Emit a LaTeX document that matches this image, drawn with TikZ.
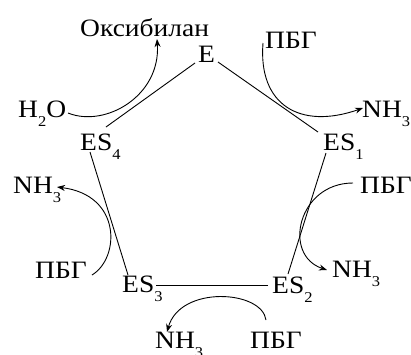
\documentclass[tikz,border=0pt]{standalone}
\usepackage{fontspec}
\setmainfont[FakeStretch=1.1]{Liberation Serif}
\usetikzlibrary{arrows.meta,calc}
\newcommand\lowsub[1]{\raisebox{-9.5pt}{\fontsize{15}{15}\selectfont #1}}
\tikzset{
  lbl/.style={inner sep=1pt, font=\fontsize{25}{29}\selectfont, anchor=base west},
  edge/.style={line width=0.9pt},
  flow/.style={line width=0.9pt, -{Stealth[length=8pt,width=6pt]}}
}
\begin{document}
\begin{tikzpicture}[x=1pt,y=-1pt]
\useasboundingbox (0,0) rectangle (411,354);
% labels
\node[lbl] (E) at (197,62) {E};
\node[lbl] (oks) at (79,36) {Оксибилан};
\node[lbl] (p1) at (264,48) {ПБГ};
\node[lbl] (h2o) at (17,117) {H\lowsub{2}O};
\node[lbl] (n1) at (361,117) {NH\lowsub{3}};
\node[lbl] (es4) at (79,150) {ES\lowsub{4}};
\node[lbl] (es1) at (322,150) {ES\lowsub{1}};
\node[lbl] (n4) at (12,193) {NH\lowsub{3}};
\node[lbl] (p2) at (359,193) {ПБГ};
\node[lbl] (p4) at (34,278) {ПБГ};
\node[lbl] (n2) at (331,277) {NH\lowsub{3}};
\node[lbl] (es3) at (121,292) {ES\lowsub{3}};
\node[lbl] (es2) at (271,293) {ES\lowsub{2}};
\node[lbl] (n3) at (154,348) {NH\lowsub{3}};
\node[lbl] (p3) at (249,348) {ПБГ};
% pentagon
\draw[edge] ($(E.base west)+(21,0)$) -- ($(es1.base west)+(-4,-18)$);
\draw[edge] ($(es1.base west)+(4,3)$) -- ($(es2.base west)+(17,-19)$);
\draw[edge] ($(es2.base west)+(-3,-8)$) -- ($(es3.base west)+(35,-7)$);
\draw[edge] ($(es3.base west)+(7,-17)$) -- ($(es4.base west)+(11,2)$);
\draw[edge] ($(es4.base west)+(27,-23)$) -- ($(E.base west)+(-2,1)$);
% arrows
\draw[flow] ($(h2o.base west)+(51,-4)$) .. controls (105,128) and (161,96) .. ($(oks.base west)+(78,3)$);
\draw[flow] ($(p1.base west)+(-1,-5)$) .. controls (258,105) and (300,130) .. ($(n1.base west)+(2,-9)$);
\draw[flow] ($(p2.base west)+(-6,-10)$) .. controls (298,183) and (282,255) .. ($(n2.base west)+(-4,-7)$);
\draw[flow] ($(p3.base west)+(17,-28)$) .. controls (262,290) and (180,285) .. ($(n3.base west)+(13,-16)$);
\draw[flow] ($(p4.base west)+(58,-3)$) .. controls (120,258) and (122,195) .. ($(n4.base west)+(45,-6)$);
\end{tikzpicture}
\end{document}
